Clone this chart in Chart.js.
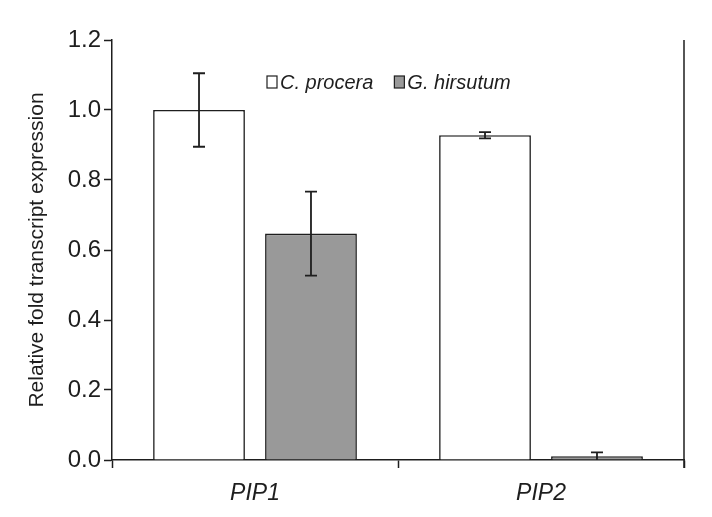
<!DOCTYPE html>
<html>
<head>
<meta charset="utf-8">
<script src="https://cdn.jsdelivr.net/npm/chart.js@4"></script>
<style>
  html, body { margin: 0; padding: 0; background: #fff; }
  #wrap { width: 712px; height: 517px; }
</style>
</head>
<body>
<div id="wrap"><canvas id="chart" width="712" height="517"></canvas></div>
<script>
// Data
const genes = ['PIP1', 'PIP2'];
const procera = [1.0, 0.928];
const proceraErr = [0.105, 0.009];
const hirsutum = [0.647, 0.011];
const hirsutumErr = [0.12, 0.011];
const yTicks = [0.0, 0.2, 0.4, 0.6, 0.8, 1.0, 1.2];

const FONT = 'Liberation Sans, Arial, sans-serif';
const INK = '#1e1e1e';

// Error bars drawn from the y scale
const errorBars = {
    id: 'errorBars',
    afterDatasetsDraw(chart) {
        const ctx = chart.ctx;
        const yScale = chart.scales.y;
        ctx.save();
        ctx.strokeStyle = INK;
        ctx.lineWidth = 1.8;
        chart.data.datasets.forEach((ds, di) => {
            const meta = chart.getDatasetMeta(di);
            meta.data.forEach((bar, i) => {
                const v = ds.data[i];
                const e = ds.errors[i];
                const yTop = yScale.getPixelForValue(v + e);
                const yBot = yScale.getPixelForValue(Math.max(0, v - e));
                const x = bar.x;
                ctx.beginPath();
                ctx.moveTo(x, yTop); ctx.lineTo(x, yBot);
                ctx.moveTo(x - 6, yTop); ctx.lineTo(x + 6, yTop);
                if (v - e > 0) {
                    ctx.moveTo(x - 6, yBot); ctx.lineTo(x + 6, yBot);
                }
                ctx.stroke();
            });
        });
        ctx.restore();
    }
};

// Legend inside the plot, near the top, plus right frame line
const innerLegend = {
    id: 'innerLegend',
    afterDraw(chart) {
        const ctx = chart.ctx;
        const area = chart.chartArea;
        ctx.save();
        ctx.strokeStyle = INK;
        ctx.lineWidth = 1.5;
        ctx.beginPath();
        ctx.moveTo(area.right, area.top);
        ctx.lineTo(area.right, area.bottom + 8);
        ctx.stroke();

        ctx.font = 'italic 20px ' + FONT;
        ctx.textBaseline = 'middle';
        ctx.lineWidth = 1.2;
        let x = 267;
        const y = 82;
        chart.data.datasets.forEach(ds => {
            ctx.fillStyle = ds.backgroundColor;
            ctx.fillRect(x, y - 6, 10, 12);
            ctx.strokeStyle = INK;
            ctx.strokeRect(x, y - 6, 10, 12);
            ctx.fillStyle = INK;
            ctx.fillText(ds.label, x + 13, y + 1);
            x += 13 + ctx.measureText(ds.label).width + 21;
        });
        ctx.restore();
    }
};

function initChart() {
    const ctx = document.getElementById('chart').getContext('2d');
    new Chart(ctx, {
        type: 'bar',
        data: {
            labels: genes,
            datasets: [{
                label: 'C. procera',
                data: procera,
                errors: proceraErr,
                backgroundColor: '#ffffff',
                borderColor: INK,
                borderWidth: 1.6
            }, {
                label: 'G. hirsutum',
                data: hirsutum,
                errors: hirsutumErr,
                backgroundColor: '#999999',
                borderColor: INK,
                borderWidth: 1.6
            }]
        },
        options: {
            responsive: false,
            animation: false,
            devicePixelRatio: 1,
            barPercentage: 0.82,
            categoryPercentage: 0.783,
            layout: { padding: { top: 40, right: 28, left: 0, bottom: 0 } },
            plugins: {
                legend: { display: false },
                tooltip: { enabled: false }
            },
            scales: {
                x: {
                    grid: {
                        offset: true,
                        drawOnChartArea: false,
                        tickLength: 8,
                        tickWidth: 1.5,
                        color: INK
                    },
                    border: { color: INK, width: 1.5 },
                    ticks: {
                        color: INK,
                        padding: 12,
                        font: { family: FONT, size: 23, style: 'italic' }
                    },
                    afterFit(scale) { scale.height = 517 - 460; }
                },
                y: {
                    min: 0,
                    max: 1.2,
                    afterBuildTicks(scale) {
                        scale.ticks = yTicks.map(v => ({ value: v }));
                    },
                    grid: {
                        drawOnChartArea: false,
                        tickLength: 8,
                        tickWidth: 1.5,
                        color: INK
                    },
                    border: { color: INK, width: 1.5 },
                    ticks: {
                        color: INK,
                        padding: 3,
                        font: { family: FONT, size: 24 },
                        callback: (v) => Number(v).toFixed(1)
                    },
                    title: {
                        display: true,
                        text: 'Relative fold transcript expression',
                        color: INK,
                        font: { family: FONT, size: 21 },
                        padding: { top: 25, bottom: 0 }
                    },
                    afterFit(scale) { scale.width = 112; }
                }
            }
        },
        plugins: [errorBars, innerLegend]
    });
}

initChart();
</script>
</body>
</html>
